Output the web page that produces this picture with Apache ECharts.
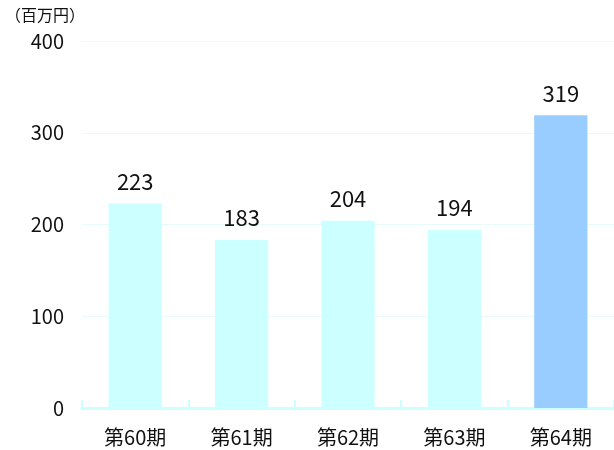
<!DOCTYPE html>
<html>
<head>
<meta charset="utf-8">
<script src="https://cdn.jsdelivr.net/npm/echarts@6/dist/echarts.min.js"></script>
<style>
  html, body { margin: 0; padding: 0; background: #fff; }
  #main { width: 614px; height: 450px; }
</style>
</head>
<body>
<div id="main"></div>
<script>
// 期
const categories = ['第60期', '第61期', '第62期', '第63期', '第64期'];
// 百万円
const values = [223, 183, 204, 194, 319];
const barColors = ['#ccffff', '#ccffff', '#ccffff', '#ccffff', '#99ccff'];
const yTicks = [0, 100, 200, 300, 400];

const font = '"Noto Sans CJK JP", "Noto Sans", sans-serif';

const myChart = echarts.init(document.getElementById('main'));
myChart.setOption({
    animation: false,
    textStyle: { fontFamily: font },
    graphic: [{
        type: 'text',
        left: 5,
        top: 7,
        style: { text: '（百万円）', font: '16px ' + font, fill: '#111' }
    }],
    grid: { left: 82, top: 41, bottom: 42, width: 535 },
    xAxis: {
        type: 'category',
        data: categories,
        axisLine: { lineStyle: { color: '#ccffff', width: 3 } },
        axisTick: { show: true, inside: true, length: 8, lineStyle: { color: '#ccffff', width: 2 } },
        axisLabel: { color: '#111', fontSize: 20, margin: 19, fontFamily: font }
    },
    yAxis: {
        type: 'value',
        min: yTicks[0],
        max: yTicks[yTicks.length - 1],
        interval: 100,
        axisLine: { show: false },
        axisTick: { show: false },
        axisLabel: { color: '#111', fontSize: 20, margin: 18, fontFamily: font },
        splitLine: { lineStyle: { color: '#e8fbfb', width: 1 } }
    },
    series: [{
        type: 'bar',
        barWidth: '50%',
        data: values.map((v, i) => ({ value: v, itemStyle: { color: barColors[i] } })),
        label: {
            show: true,
            position: 'top',
            distance: 11,
            color: '#111',
            fontSize: 22,
            fontFamily: font
        }
    }]
});
</script>
</body>
</html>
